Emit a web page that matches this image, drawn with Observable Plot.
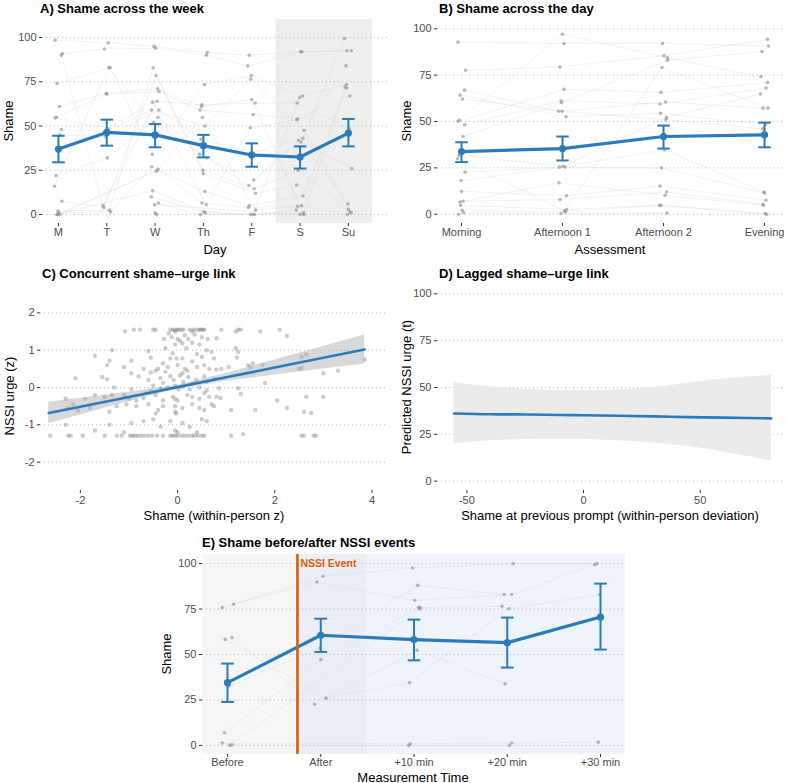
<!DOCTYPE html>
<html>
<head>
<meta charset="utf-8">
<script src="https://cdn.jsdelivr.net/npm/d3@7"></script>
<script src="https://cdn.jsdelivr.net/npm/@observablehq/plot@0.6"></script>
<style>
  body { margin: 0; background: #fff; }
  #fig { position: relative; width: 788px; height: 783px; overflow: hidden;
         font-family: "Liberation Sans", Arial, Helvetica, sans-serif; }
  .ttl { position: absolute; font-weight: bold; font-size: 13px; color: #000;
         white-space: nowrap; line-height: 1; transform: translateY(-50%); }
  .axt { position: absolute; font-size: 13px; color: #000; white-space: nowrap;
         line-height: 1; transform: translate(-50%, -50%); }
  .axt.rot { transform: translate(-50%, -50%) rotate(-90deg); }
</style>
</head>
<body>
<div id="fig"></div>
<script>
// ---------- Panel A: shame by weekday ----------
const weekDays = ["M", "T", "W", "Th", "F", "S", "Su"];
const weekMean = [37, 46.4, 45, 38.9, 33.6, 32.5, 46];
const weekLow  = [29.5, 38.9, 38, 32.3, 27, 26, 38.5];
const weekHigh = [44.5, 53.6, 51.1, 45, 40.2, 38.5, 54];
const weekendDays = ["S", "Su"];
// one row per participant, one value per weekday (null = no report)
const weekPeople = [
  [98.5, 97, 95, 91.5, 90, 92, 92.5],
  [91, 93.5, 94, 90, 84, 92, 92.5],
  [90, 5, 64, 62, 63, 63, 48.5],
  [74, 83, 34, 73.5, 78.5, 67, 73.5],
  [61, 68.5, 71, 61, 65, 0, 72],
  [55, 68, 69.5, 59, 56.5, 54, 1],
  [54.5, 48.5, 63.5, 5.5, 49, 53.5, 67],
  [48, 47, 59, 50, 76.5, 47.5, 84],
  [45, 44, 59, 42.5, 35, 43, 99.5],
  [22, 32, 55, 34, 19.5, 42, 26],
  [16, 83, 52, 32, 16.4, 41, 6],
  [7.5, 4, 78.5, 25, 14.5, 25, 3],
  [2, 2.5, 83, 23, 12, 16.7, 1.5],
  [1, 1.5, 27, 13, 5, 10.5, 71.5],
  [0, null, 25.5, 6.5, 4, 5, 0],
  [0, null, 24.5, 55, 2.5, 4.5, null],
  [0, null, 13.5, 1.5, 0, 2.5, null],
  [null, null, 10, 1, 0, 1, null],
  [null, null, 6.5, 0, 0, 66, null],
  [null, null, 5.5, null, null, 0, null],
  [null, null, 1, null, null, null, null],
  [null, null, 0, null, null, null, null]
];

// ---------- Panel B: shame by time of day ----------
const dayParts = ["Morning", "Afternoon 1", "Afternoon 2", "Evening"];
const dayMean = [33.8, 35.4, 41.9, 42.8];
const dayLow  = [28.1, 29, 35.4, 36.1];
const dayHigh = [38.8, 41.9, 47.8, 49.4];
const dayPeople = [
  [92.8, 92, 92.1, 90.7],
  [77.6, 79.4, 85.5, 94.3],
  [66.9, 55.5, 60.5, 57.2],
  [64.2, 52.6, 54.4, 48.3],
  [62.1, 55.5, 51, 46],
  [50.8, 97, 84.4, 74.1],
  [50.1, 67.3, 65.7, 71],
  [48.3, 61.2, 59.4, 68],
  [41.9, 60.1, 83, 87.7],
  [31.7, 25.9, 52.2, 64.8],
  [29.9, 1.8, 79.1, 57.2],
  [22.7, 25.4, 34.7, 12],
  [18.2, 25.4, 25, 11.4],
  [12.3, 10, 15.2, 7.5],
  [7, 7.9, 12, 5.4],
  [6.6, 17, 10.2, 4.8],
  [4.8, 2.5, 4.8, 0.4],
  [2.1, 1.3, 4.8, 0],
  [0.9, 0.4, 0.7, null],
  [0, null, null, null]
];

// small horizontal offsets so overlapping reports stay visible
const jitter = [-0.07, 0.03, -0.02, 0.08, -0.05, 0.01, 0.06, -0.08, 0.04, -0.03, 0.07,
                -0.06, 0.02, -0.01, 0.05, -0.04, 0.0, 0.08, -0.07, 0.03, -0.05, 0.06, -0.03];

// ---------- Panel C: concurrent shame (x) and urge (y), within-person z ----------
const concurrentPts = [
  [-1.08,1.5],[-0.9,1.55],[-0.77,1.55],[-0.5,1.55],[-0.45,1.55],[-0.15,1.55],[-0.1,1.55],[-0.05,1.55],
  [0,1.55],[0.03,1.55],[0.08,1.55],[0.12,1.55],[0.25,1.55],[0.33,1.55],[0.4,1.55],[0.45,1.55],
  [0.48,1.55],[0.52,1.55],[0.55,1.55],[0.9,1.55],[1.25,1.55],[1.3,1.55],[2.1,1.55],[1.2,1.5],
  [1.7,1.5],[-0.05,1.5],[0.3,1.5],
  [-0.18,1.45],[-0.12,1.35],[0,1.3],[0.05,1.25],[0.15,1.4],[0.22,1.3],[0.35,1.42],[0.5,1.35],
  [0.62,1.3],[-0.28,1.3],[0.8,1.32],[2.25,1.38],[0.1,1.18],[-0.05,1.15],[0.3,1.2],[0.45,1.15],
  [-1.35,1.0],[-0.6,0.98],[-0.25,1.05],[0.18,1.05],[0.6,1.0],[0.7,0.95],[1.2,1.05],[0.4,0.9],
  [-0.1,0.92],[1.25,0.95],
  [-1.7,0.85],[-1.4,0.72],[-0.95,0.72],[-0.55,0.8],[-0.15,0.78],[-0.02,0.78],[0.1,0.78],[0.3,0.7],
  [0.5,0.82],[0.75,0.78],[1.22,0.8],[-0.3,0.65],[2.55,0.82],[2.65,0.88],[3.85,0.75],
  [-1.45,0.6],[-1.1,0.55],[-0.7,0.5],[-0.45,0.45],[-0.4,0.5],[-0.2,0.55],[0,0.6],[0.15,0.5],
  [0.2,0.45],[0.4,0.55],[0.55,0.6],[0.65,0.5],[0.8,0.48],[0.9,0.5],[1.05,0.55],[1.5,0.55],
  [1.45,0.6],[1.55,0.65],[1.75,0.6],[2.5,0.5],[-0.55,0.4],[-0.95,0.38],[2.55,0.52],[3.3,0.45],
  [3.0,0.38],[-0.25,0.42],[0.1,0.38],
  [-2.1,0.25],[-1.55,0.28],[-1.45,0.22],[-0.8,0.3],[-0.6,0.2],[-0.35,0.25],[-0.15,0.3],[-0.08,0.2],
  [0.05,0.32],[0.12,0.15],[0.22,0.28],[0.38,0.2],[0.55,0.3],[0.6,0.15],[0.75,0.22],[1.8,0.12],
  [0.3,0.1],[-0.3,0.12],
  [-1.3,0.0],[-0.95,-0.05],[-0.5,0.05],[-0.35,-0.02],[-0.2,0.0],[-0.05,0.05],[0.02,-0.05],[0.1,0.02],
  [0.25,-0.05],[0.45,0.0],[0.6,-0.08],[0.85,-0.02],[1.25,-0.02],[-0.55,-0.08],
  [-2.3,-0.3],[-1.9,-0.3],[-1.7,-0.2],[-1.5,-0.25],[-1.35,-0.2],[-1.1,-0.2],[-1.0,-0.3],[-0.85,-0.35],
  [-0.7,-0.28],[-0.45,-0.2],[-0.3,-0.35],[-0.1,-0.25],[-0.05,-0.3],[0.0,-0.35],[0.2,-0.2],[0.3,-0.25],
  [0.45,-0.3],[0.55,-0.15],[0.65,-0.25],[0.8,-0.25],[0.88,-0.28],[1.3,-0.17],[2.05,-0.35],[3.0,-0.25],
  [2.65,-0.25],[-0.65,-0.15],
  [-2.25,-0.55],[-2.05,-0.62],[-1.8,-0.55],[-1.4,-0.65],[-1.25,-0.5],[-1.05,-0.45],[-0.85,-0.5],
  [-0.6,-0.45],[-0.45,-0.7],[-0.4,-0.6],[-0.3,-0.5],[-0.05,-0.5],[-0.05,-0.65],[-0.03,-0.7],[0.1,-0.55],
  [0.3,-0.45],[0.45,-0.55],[0.7,-0.45],[0.75,-0.5],[1.1,-0.6],[1.6,-0.6],[2.25,-0.55],[2.6,-0.65],
  [2.75,-0.68],[-2.15,-0.45],[0.55,-0.6],
  [-2.3,-1.0],[-1.7,-1.15],[-1.4,-1.0],[-1.1,-1.2],[-0.95,-0.95],[-0.7,-0.9],[-0.5,-0.85],[-0.35,-1.05],
  [-0.15,-0.9],[-0.05,-1.15],[0.1,-0.95],[0.25,-1.05],[0.4,-1.2],[0.5,-0.85],[0.6,-0.9],[1.35,-1.25],
  [0.0,-1.2],
  [-2.62,-1.29],[-2.25,-1.29],[-2.2,-1.29],[-1.95,-1.29],[-1.5,-1.29],[-1.25,-1.29],[-1.15,-1.29],
  [-0.98,-1.29],[-0.93,-1.29],[-0.88,-1.29],[-0.82,-1.29],[-0.75,-1.29],[-0.68,-1.29],[-0.6,-1.29],
  [-0.52,-1.29],[-0.42,-1.29],[-0.3,-1.29],[-0.15,-1.29],[-0.1,-1.29],[-0.05,-1.29],[0.0,-1.29],
  [0.08,-1.29],[0.15,-1.29],[0.22,-1.29],[0.3,-1.29],[0.35,-1.29],[0.42,-1.29],[0.5,-1.29],
  [0.55,-1.29],[1.1,-1.29],[2.55,-1.29],[2.6,-1.29],[2.8,-1.29],[2.85,-1.29]
];
// linear fit with 95% band
const fitX  = [-2.65, -2, -1, 0, 1, 2, 3, 3.85];
const fitY  = [-0.684, -0.514, -0.252, 0.01, 0.272, 0.534, 0.796, 1.019];
const fitLo = [-0.972, -0.739, -0.376, -0.041, 0.167, 0.332, 0.493, 0.629];
const fitHi = [-0.396, -0.289, -0.128, 0.061, 0.377, 0.736, 1.099, 1.409];

// ---------- Panel D: lagged model prediction ----------
const lagX   = [-55.5, -40, -25, -10, 0, 15, 30, 45, 60, 80.5];
const lagFit = [36.1, 35.7, 35.6, 35.3, 35.2, 34.9, 34.6, 34.2, 33.9, 33.5];
const lagLo  = [20, 21.5, 22.3, 22.5, 22.4, 21.5, 20.4, 18.5, 15.6, 10.8];
const lagHi  = [52.6, 50.4, 49, 48.3, 48.1, 48.8, 50, 52.3, 54.6, 56.4];

// ---------- Panel E: shame around NSSI events ----------
const eventTimes = ["Before", "After", "+10 min", "+20 min", "+30 min"];
const eventMean = [34.5, 60.6, 58.2, 56.5, 70.6];
const eventLow  = [23.9, 51.4, 46.8, 42.8, 52.7];
const eventHigh = [45, 69.7, 69.2, 70.3, 89];
const eventPeople = [
  [75.8, 93, 97.6, 100, 100],
  [77.6, 89.9, 79.8, 83, 99.4],
  [59.3, 22.6, 52.3, 33.9, null],
  [58.3, 26, 34.5, 75.2, 83],
  [32.7, 53.6, 88, 83, null],
  [7, 47.2, 75.8, 76.5, null],
  [1.3, null, 0.9, 1.3, 1.8],
  [0.4, null, 0, 0, null],
  [0, null, 75, null, null],
  [null, null, 75.8, null, null]
];
const eventOnset = 1.75;          // between "Before" and "After"
const eventLabel = ["NSSI Event"];

// ---------- shared styling ----------
const blue = "#2b7bba";
const orange = "#d95f02";
const shameTicks = [0, 25, 50, 75, 100];
const font = "'Liberation Sans', Arial, Helvetica, sans-serif";
const gridStyle = {stroke: "#b8b8b8", strokeOpacity: 1, strokeDasharray: "1,3", strokeWidth: 1};
const axisStyle = {tickSize: 3, tickPadding: 3, fontSize: 11, fill: "#4d4d4d", stroke: "#333",
                   label: null, tickFormat: d => String(d)};

const fig = document.getElementById("fig");

function addText(text, x, y, cls) {
  const d = document.createElement("div");
  d.className = cls;
  d.textContent = text;
  d.style.left = x + "px";
  d.style.top = y + "px";
  fig.appendChild(d);
}

function panel({left, top, width, height, ml, mr, mt, mb, xDomain, yDomain, marks}) {
  const svg = Plot.plot({
    width, height,
    marginLeft: ml, marginRight: mr, marginTop: mt, marginBottom: mb,
    x: {type: "linear", domain: xDomain, label: null},
    y: {type: "linear", domain: yDomain, label: null},
    style: {fontFamily: font, fontSize: "11px", background: "transparent", overflow: "visible"},
    marks
  });
  svg.style.position = "absolute";
  svg.style.left = left + "px";
  svg.style.top = top + "px";
  fig.appendChild(svg);
}

function personRows(people, jitterScale) {
  const rows = [];
  people.forEach((vals, p) => vals.forEach((v, i) => {
    if (v != null) rows.push({person: p, pos: i + 1 + jitter[(p * 3 + i) % jitter.length] * jitterScale, value: v});
  }));
  return rows;
}

function summaryRows(mean, lo, hi) {
  return mean.map((m, i) => ({pos: i + 1, mean: m, lo: lo[i], hi: hi[i]}));
}

function peopleMarks(rows) {
  return [
    Plot.line(rows, {x: "pos", y: "value", z: "person", stroke: "#cfcfcf", strokeWidth: 0.5, strokeOpacity: 0.55}),
    Plot.dot(rows, {x: "pos", y: "value", r: 1.8, fill: "#8c8c8c", fillOpacity: 0.6})
  ];
}

function summaryMarks(rows, cap) {
  return [
    Plot.ruleX(rows, {x: "pos", y1: "lo", y2: "hi", stroke: blue, strokeWidth: 2}),
    Plot.link(rows, {x1: d => d.pos - cap, x2: d => d.pos + cap, y1: "lo", y2: "lo", stroke: blue, strokeWidth: 2}),
    Plot.link(rows, {x1: d => d.pos - cap, x2: d => d.pos + cap, y1: "hi", y2: "hi", stroke: blue, strokeWidth: 2}),
    Plot.line(rows, {x: "pos", y: "mean", stroke: blue, strokeWidth: 3.2}),
    Plot.dot(rows, {x: "pos", y: "mean", r: 3.6, fill: blue})
  ];
}

// ---------- A ----------
const weekRows = personRows(weekPeople, 1);
const weekSummary = summaryRows(weekMean, weekLow, weekHigh);
const weekendBand = [{x1: weekDays.indexOf(weekendDays[0]) + 0.5, x2: weekDays.indexOf(weekendDays[1]) + 1.5}];
panel({
  left: 0, top: 0, width: 394, height: 260, ml: 42, mr: 6, mt: 19, mb: 37,
  xDomain: [0.67, 7.83], yDomain: [-5.08, 110.2],
  marks: [
    Plot.rect(weekendBand, {x1: "x1", x2: "x2", fill: "#efefef"}),
    Plot.gridY({ticks: shameTicks, ...gridStyle}),
    Plot.axisY({ticks: shameTicks, ...axisStyle}),
    Plot.axisX({...axisStyle, ticks: weekDays.map((d, i) => i + 1), tickFormat: i => weekDays[i - 1], tickPadding: 2}),
    ...peopleMarks(weekRows),
    ...summaryMarks(weekSummary, 0.13)
  ]
});
addText("A) Shame across the week", 40, 8, "ttl");
addText("Day", 215, 249, "axt");
addText("Shame", 8, 121, "axt rot");

// ---------- B ----------
const dayRows = personRows(dayPeople, 0.5);
const daySummary = summaryRows(dayMean, dayLow, dayHigh);
panel({
  left: 394, top: 0, width: 394, height: 260, ml: 43, mr: 6, mt: 19, mb: 37,
  xDomain: [0.762, 4.178], yDomain: [-5, 105],
  marks: [
    Plot.gridY({ticks: shameTicks, ...gridStyle}),
    Plot.axisY({ticks: shameTicks, ...axisStyle}),
    Plot.axisX({...axisStyle, ticks: dayParts.map((d, i) => i + 1), tickFormat: i => dayParts[i - 1], tickPadding: 2}),
    ...peopleMarks(dayRows),
    ...summaryMarks(daySummary, 0.062)
  ]
});
addText("B) Shame across the day", 439, 8, "ttl");
addText("Assessment", 610, 249, "axt");
addText("Shame", 406, 121, "axt rot");

// ---------- C ----------
const fitRows = fitX.map((x, i) => ({x, y: fitY[i], lo: fitLo[i], hi: fitHi[i]}));
panel({
  left: 0, top: 260, width: 394, height: 260, ml: 40, mr: 6, mt: 24, mb: 30,
  xDomain: [-2.82, 4.34], yDomain: [-2.76, 2.76],
  marks: [
    Plot.gridY({ticks: [-2, -1, 0, 1, 2], ...gridStyle}),
    Plot.axisY({ticks: [-2, -1, 0, 1, 2], ...axisStyle}),
    Plot.axisX({ticks: [-2, 0, 2, 4], ...axisStyle}),
    Plot.dot(concurrentPts, {x: d => d[0], y: d => d[1], r: 2.2, fill: "#555", fillOpacity: 0.3}),
    Plot.areaY(fitRows, {x: "x", y1: "lo", y2: "hi", fill: "#a8a8a8", fillOpacity: 0.45}),
    Plot.line(fitRows, {x: "x", y: "y", stroke: blue, strokeWidth: 2.6})
  ]
});
addText("C) Concurrent shame\u2013urge link", 42, 273, "ttl");
addText("Shame (within-person z)", 214, 515, "axt");
addText("NSSI urge (z)", 9, 396, "axt rot");

// ---------- D ----------
const lagRows = lagX.map((x, i) => ({x, y: lagFit[i], lo: lagLo[i], hi: lagHi[i]}));
panel({
  left: 394, top: 260, width: 394, height: 260, ml: 43, mr: 6, mt: 24, mb: 30,
  xDomain: [-62.6, 85.3], yDomain: [-5, 105],
  marks: [
    Plot.gridY({ticks: shameTicks, ...gridStyle}),
    Plot.axisY({ticks: shameTicks, ...axisStyle}),
    Plot.axisX({ticks: [-50, 0, 50], ...axisStyle}),
    Plot.areaY(lagRows, {x: "x", y1: "lo", y2: "hi", fill: "#ebebeb", curve: "monotone-x"}),
    Plot.line(lagRows, {x: "x", y: "y", stroke: blue, strokeWidth: 2.6, curve: "monotone-x"})
  ]
});
addText("D) Lagged shame\u2013urge link", 439, 273, "ttl");
addText("Shame at previous prompt (within-person deviation)", 610, 515, "axt");
addText("Predicted NSSI urge (t)", 406, 387, "axt rot");

// ---------- E ----------
const eventRows = personRows(eventPeople, 0.8);
const eventSummary = summaryRows(eventMean, eventLow, eventHigh);
const eDomain = [0.732, 5.268];
const phases = [
  {x1: eDomain[0], x2: eventOnset, fill: "#f6f6f7"},
  {x1: eventOnset, x2: 2.5, fill: "#ebeff5"},
  {x1: 2.5, x2: eDomain[1], fill: "#eef4fa"}
];
panel({
  left: 140, top: 520, width: 500, height: 263, ml: 62, mr: 15, mt: 34, mb: 29,
  xDomain: eDomain, yDomain: [-5, 105],
  marks: [
    Plot.rect(phases, {x1: "x1", x2: "x2", fill: "fill"}),
    Plot.gridY({ticks: shameTicks, ...gridStyle}),
    Plot.axisY({ticks: shameTicks, ...axisStyle}),
    Plot.axisX({...axisStyle, ticks: eventTimes.map((d, i) => i + 1), tickFormat: i => eventTimes[i - 1], tickPadding: 1}),
    ...peopleMarks(eventRows),
    ...summaryMarks(eventSummary, 0.068),
    Plot.ruleX([eventOnset], {stroke: orange, strokeWidth: 2.6}),
    Plot.text(eventLabel, {x: eventOnset, y: 100, text: d => d, dx: 3, textAnchor: "start",
      fill: orange, fontWeight: "bold", fontSize: 10.5})
  ]
});
addText("E) Shame before/after NSSI events", 202, 542, "ttl");
addText("Measurement Time", 413, 777, "axt");
addText("Shame", 166, 654, "axt rot");
</script>
</body>
</html>
